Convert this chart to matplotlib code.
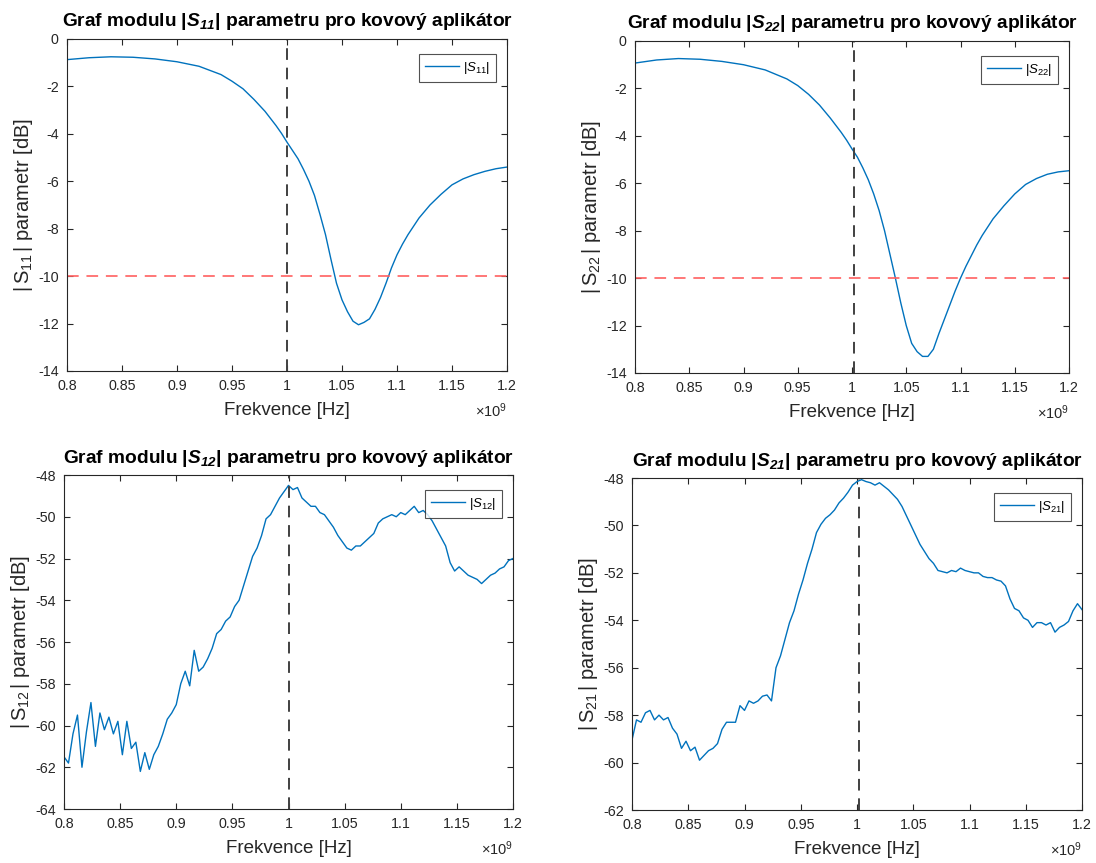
import numpy as np
import matplotlib
matplotlib.use("Agg")
import matplotlib.pyplot as plt
from matplotlib.ticker import FuncFormatter, MultipleLocator

plt.rcParams['font.family'] = ['Liberation Sans', 'DejaVu Sans']
plt.rcParams['mathtext.fontset'] = 'custom'
plt.rcParams['mathtext.rm'] = 'Liberation Sans'
plt.rcParams['mathtext.it'] = 'Liberation Sans:italic'
plt.rcParams['mathtext.bf'] = 'Liberation Sans:bold'
plt.rcParams['mathtext.bfit'] = 'Liberation Sans:italic:bold'

# ---------------- data (frequency in GHz, i.e. x 10^9 Hz) ----------------
f_s11 = [0.80, 0.82, 0.84, 0.86, 0.88, 0.90, 0.92, 0.94, 0.95, 0.96, 0.97, 0.98, 0.99, 0.995,
         1.00, 1.005, 1.01, 1.015, 1.02, 1.025, 1.03, 1.035, 1.04, 1.045, 1.05, 1.055, 1.06,
         1.065, 1.07, 1.075, 1.08, 1.085, 1.09, 1.095, 1.10, 1.105, 1.11, 1.12, 1.13, 1.14,
         1.15, 1.16, 1.17, 1.18, 1.19, 1.20]
s11_db = [-0.87, -0.79, -0.75, -0.77, -0.84, -0.96, -1.15, -1.5, -1.78, -2.1, -2.55, -3.05, -3.65, -3.98,
          -4.35, -4.7, -5.05, -5.5, -6.0, -6.6, -7.4, -8.25, -9.3, -10.3, -11.0, -11.5, -11.9,
          -12.05, -11.95, -11.8, -11.4, -10.9, -10.3, -9.65, -9.1, -8.65, -8.25, -7.55, -7.0, -6.55,
          -6.15, -5.9, -5.72, -5.58, -5.47, -5.4]

f_s22 = [0.80, 0.82, 0.84, 0.86, 0.88, 0.90, 0.92, 0.94, 0.95, 0.96, 0.97, 0.98, 0.99, 0.995,
         1.00, 1.005, 1.01, 1.015, 1.02, 1.025, 1.03, 1.035, 1.04, 1.045, 1.05, 1.055, 1.06,
         1.065, 1.07, 1.075, 1.08, 1.085, 1.09, 1.095, 1.10, 1.105, 1.11, 1.115, 1.12, 1.125,
         1.13, 1.14, 1.15, 1.16, 1.17, 1.18, 1.19, 1.20]
s22_db = [-0.93, -0.8, -0.74, -0.77, -0.86, -1.0, -1.22, -1.6, -1.88, -2.25, -2.7, -3.25, -3.85, -4.18,
          -4.55, -4.9, -5.35, -5.85, -6.45, -7.15, -8.0, -9.0, -10.0, -11.05, -12.0, -12.75, -13.1,
          -13.3, -13.3, -13.0, -12.35, -11.75, -11.15, -10.55, -10.0, -9.5, -9.05, -8.6, -8.2, -7.85,
          -7.5, -6.95, -6.45, -6.05, -5.8, -5.62, -5.52, -5.47]

f_noisy = np.linspace(0.8, 1.2, 101)  # 4 MHz sampling grid
s12_db = [-61.5, -61.8, -60.4, -59.5, -62.0, -60.3, -58.9, -61.0, -59.4, -60.2,
          -59.6, -60.4, -59.8, -61.4, -59.8, -61.1, -60.8, -62.2, -61.3, -62.1,
          -61.4, -61.0, -60.4, -59.7, -59.4, -59.0, -58.0, -57.4, -58.1, -56.4,
          -57.4, -57.2, -56.8, -56.3, -55.6, -55.4, -55.0, -54.8, -54.3, -54.0,
          -53.3, -52.6, -51.9, -51.5, -50.9, -50.1, -49.9, -49.5, -49.1, -48.8,
          -48.5, -48.7, -48.6, -49.1, -49.3, -49.5, -49.5, -49.8, -49.9, -50.2,
          -50.5, -50.9, -51.2, -51.5, -51.6, -51.4, -51.4, -51.2, -51.0, -50.8,
          -50.3, -50.1, -50.0, -49.9, -50.0, -49.8, -49.9, -49.7, -49.5, -49.8,
          -49.7, -49.9, -50.2, -50.6, -51.0, -51.4, -52.2, -52.6, -52.4, -52.6,
          -52.8, -52.9, -53.0, -53.2, -53.0, -52.8, -52.7, -52.5, -52.4, -52.1,
          -52.0]
s21_db = [-59.05, -58.2, -58.3, -57.9, -57.8, -58.2, -58.0, -58.2, -58.1, -58.55,
          -58.8, -59.4, -59.1, -59.5, -59.35, -59.9, -59.7, -59.5, -59.4, -59.2,
          -58.6, -58.3, -58.3, -58.3, -57.6, -57.8, -57.4, -57.5, -57.4, -57.2,
          -57.15, -57.4, -56.0, -55.5, -54.8, -54.1, -53.6, -52.9, -52.3, -51.6,
          -51.0, -50.3, -49.95, -49.7, -49.55, -49.35, -49.05, -48.85, -48.6, -48.3,
          -48.15, -48.07, -48.15, -48.2, -48.3, -48.2, -48.35, -48.5, -48.7, -48.9,
          -49.2, -49.6, -50.0, -50.4, -50.8, -51.1, -51.4, -51.6, -51.9, -51.95,
          -52.0, -51.9, -51.95, -51.8, -51.9, -51.95, -52.0, -52.0, -52.15, -52.2,
          -52.2, -52.3, -52.35, -52.55, -53.1, -53.5, -53.6, -53.9, -54.0, -54.3,
          -54.1, -54.1, -54.2, -54.1, -54.5, -54.3, -54.2, -54.05, -53.6, -53.3,
          -53.55]

panels = [
    # name, x, y, ylim, ylabel-subscript, pixel box (left, top, right, bottom), -10 dB line
    ("11", f_s11, s11_db, (-14, 0), r"\mathit{11}", (67, 39, 507, 371), True),
    ("22", f_s22, s22_db, (-14, 0), r"22", (635, 41, 1069, 373), True),
    ("12", f_noisy, s12_db, (-64, -48), r"\mathit{12}", (64, 475, 513, 809), False),
    ("21", f_noisy, s21_db, (-62, -48), r"\mathit{21}", (632, 478, 1082, 810), False),
]

W, H = 1096, 863
fig = plt.figure(figsize=(W / 100, H / 100), dpi=100)
fig.patch.set_facecolor("white")

line_col = "#0072BD"
ax_col = "#262626"

for name, fx, fy, ylim, ysub, (l, t, r, b), refl in panels:
    ax = fig.add_axes([l / W, 1 - b / H, (r - l) / W, (b - t) / H])
    ax.plot(fx, fy, color=line_col, lw=1.0, label=r"$|S_{\mathit{%s}}|$" % name)
    if refl:
        ax.axhline(-10, color="#FF5F5F", lw=1.4, ls=(0, (6, 4)), alpha=0.85)
    ax.axvline(1.0 if name in ("11", "12") else 1.002, color="#404040", lw=1.4, ls=(0, (6, 4)))
    ax.set_xlim(0.8, 1.2)
    ax.set_ylim(*ylim)
    ax.xaxis.set_major_locator(MultipleLocator(0.05))
    ax.yaxis.set_major_locator(MultipleLocator(2))
    ax.xaxis.set_major_formatter(FuncFormatter(lambda v, p: "%g" % round(v, 4)))
    ax.yaxis.set_major_formatter(FuncFormatter(lambda v, p: "%g" % v))
    ax.tick_params(direction="in", length=4, width=0.8, top=True, right=True,
                   labelsize=10.3, colors=ax_col, pad=6)
    for s in ax.spines.values():
        s.set_color(ax_col)
        s.set_linewidth(0.8)
    ax.set_xlabel("Frekvence [Hz]", fontsize=13.5, color=ax_col, labelpad=6)
    ax.set_ylabel(r"$|\,\mathrm{S}_{%s}\,|$ parametr [dB]" % ysub, fontsize=14.5, color=ax_col, labelpad=2)
    ax.set_title(r"Graf modulu $\mathbf{|}\mathbfit{S}_{\mathbfit{%s}}\mathbf{|}$ parametru pro kovový aplikátor" % name,
                 fontsize=13.8, fontweight="bold", pad=9)
    ax.text(1.0, -0.12, r"$\times10^{9}$", transform=ax.transAxes, ha="right", va="center",
            fontsize=10.5, color=ax_col)
    leg = ax.legend(loc="upper right", fontsize=9.5, handlelength=2.6, fancybox=False,
                    bbox_to_anchor=(1 - 11 / (r - l), 1 - 15 / (b - t)), borderaxespad=0.0,
                    borderpad=0.45, handletextpad=0.3)
    leg.get_frame().set_edgecolor("#262626")
    leg.get_frame().set_linewidth(0.8)

fig.savefig("out.png", dpi=100)
